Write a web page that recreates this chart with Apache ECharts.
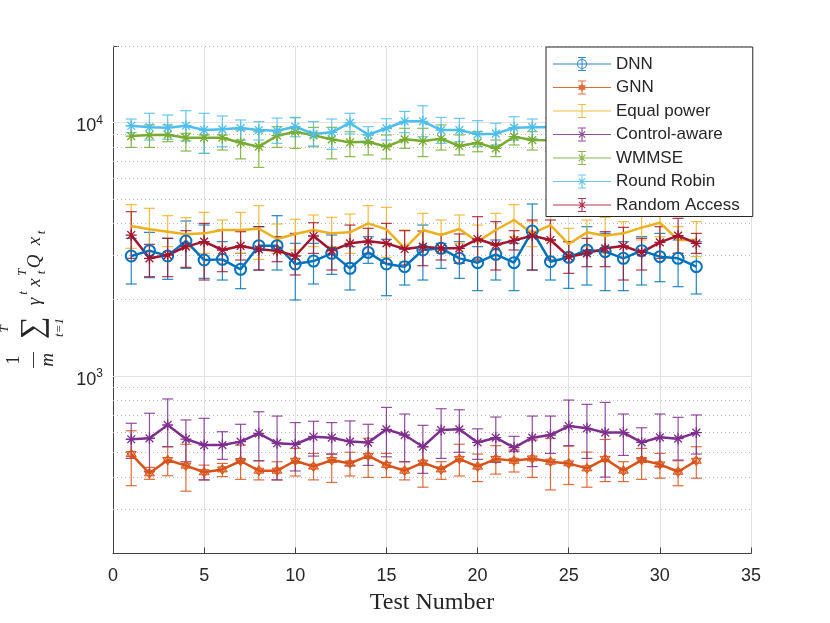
<!DOCTYPE html>
<html><head><meta charset="utf-8">
<script src="https://cdn.jsdelivr.net/npm/echarts@6/dist/echarts.min.js"></script>
<style>html,body{margin:0;padding:0;background:#fff}#c{width:830px;height:623px}</style>
</head><body><div id="c"></div>
<script>
// ---------- data ----------
const testNumbers = [1,2,3,4,5,6,7,8,9,10,11,12,13,14,15,16,17,18,19,20,21,22,23,24,25,26,27,28,29,30,31,32];
const seriesNames = ['DNN','GNN','Equal power','Control-aware','WMMSE','Round Robin','Random Access'];

const dnnMean = [2974,3122,2974,3409,2868,2885,2635,3268,3268,2766,2842,3047,2659,3074,2766,2700,3141,3189,2912,2800,3019,2800,3732,2825,2939,3141,3094,2912,3122,2957,2912,2700];
const dnnHigh = [3492,3686,3492,4087,3940,3388,3047,3882,4289,3337,3337,3599,3238,3545,3461,3189,3940,3337,3388,3238,3440,3337,4769,3440,3388,3882,3653,3388,3545,3653,3440,3388];
const dnnLow  = [2307,2444,2407,2659,2429,2392,2212,2619,2619,1995,2307,2519,2185,2783,2075,2286,2392,2659,2429,2172,2392,2172,2619,2392,2218,2286,2172,2172,2286,2356,2252,2107];

const gnnMean = [493,414,467,444,418,429,463,424,424,464,440,467,453,485,447,424,456,429,472,440,472,464,474,460,453,433,472,424,467,449,420,464];
const gnnHigh = [609,437,527,539,446,453,535,464,460,519,496,493,501,569,496,460,527,460,539,493,532,512,560,569,530,502,563,460,519,496,464,527];
const gnnLow  = [370,392,405,352,390,402,392,390,390,404,390,381,404,399,399,390,365,392,404,384,411,419,399,356,374,365,384,384,392,396,370,396];

const equalMean = [3905,3789,3709,3621,3653,3766,3766,3812,3470,3632,3766,3653,3687,4000,3789,3189,3766,3598,3800,3388,3766,4124,3653,3940,3316,3687,3577,3653,3847,4024,3440,3440];
const equalHigh = [4740,4585,4289,4212,4420,4124,4420,4698,3976,4149,4315,4225,4354,4698,4627,3766,4380,4124,4315,3940,4380,4740,4062,4585,3824,4124,4225,4062,4380,4515,3882,4062];
const equalLow  = [3189,3094,3238,3189,3047,3189,3047,2885,3047,3141,3238,3238,3047,3357,2939,2825,3141,3047,3337,2868,3141,3545,3238,3409,3047,3238,3047,3238,3440,3545,3047,2957];

const controlMean = [564,569,642,565,535,535,552,595,544,539,577,572,552,547,617,586,527,613,617,548,572,523,572,586,636,623,599,599,548,574,567,599];
const controlHigh = [652,714,813,672,682,604,646,724,696,656,664,656,666,646,753,709,640,744,737,620,690,579,696,696,805,774,788,709,626,709,688,703];
const controlLow  = [474,420,527,460,390,470,467,464,390,423,484,493,443,445,481,460,414,474,501,470,457,504,440,496,532,474,400,487,472,440,467,493];

const wmmseMean = [8835,8916,8943,8705,8705,8705,8318,8022,8862,9191,8889,8575,8342,8394,8022,8575,8445,8626,8072,8318,7903,8782,8520,8500,8700,8400,8600,8300,8500,8700,8400,8600];
const wmmseHigh = [9710,9770,9770,9060,8920,8920,9330,9190,9620,10460,9560,9560,9190,8920,8920,9480,9480,9770,8920,9190,8520,9480,9190,9300,9500,9200,9400,9100,9300,9500,9200,9400];
const wmmseLow  = [7970,7970,8394,7710,7550,7780,7180,6650,7970,7900,8020,7180,7330,7440,7180,7900,7330,7780,7440,7660,7330,8145,7780,7700,7900,7600,7800,7500,7700,7900,7600,7800];

const rrMean = [9700,9570,9530,9700,9330,9390,9500,9330,9270,9620,9000,9140,9950,8940,9480,10100,10100,9330,9330,8970,9030,9530,9570,9600,9400,9700,9500,9300,9600,9500,9400,9600];
const rrHigh = [10310,10860,10690,11120,10860,10600,10220,10070,10400,10430,10070,10310,10860,9620,10340,11050,11630,10460,10370,10160,9920,10530,10310,10400,10200,10500,10300,10100,10400,10300,10200,10400];
const rrLow  = [9110,8520,8575,8445,7550,8020,8520,8520,8270,8780,8072,7830,9000,8270,8520,9110,8780,8270,8394,8020,8145,8520,8650,8700,8500,8800,8600,8400,8700,8600,8500,8700];

const raMean = [3598,2912,3001,3238,3388,3141,3258,3160,3122,2974,3566,3122,3337,3398,3337,3170,3238,3189,3189,3470,3287,3429,3577,3440,2957,3047,3189,3258,3074,3368,3577,3337];
const raHigh = [4447,3307,3492,3743,4000,3766,3709,3882,3545,3653,4024,3653,3940,3824,4000,3743,3731,3621,3632,4250,4062,3743,4124,4124,3388,3492,3709,3858,3492,3882,4187,3653];
const raLow  = [2912,2466,2466,2684,2392,2580,2868,2619,2825,2504,3047,2619,2783,3047,2783,2741,2724,2868,2783,2868,2619,3141,2619,2868,2542,2700,2700,2392,2619,2912,3047,3047];

const xTicks = [0,5,10,15,20,25,30,35];
const yMajorGrid = [1000,10000];
const yMinorGrid = [300,400,500,600,700,800,900,2000,3000,4000,5000,6000,7000,8000,9000,20000];

// ---------- styling ----------
const colors = ['#0072BD','#D95319','#EDB120','#7E2F8E','#77AC30','#4DBEEE','#A2142F'];
const markerKinds = ['circle','hexagram','none','asterisk','asterisk','asterisk','asterisk'];

function rectP(x0,y0,x1,y1){ return 'M'+x0+','+y0+' L'+x1+','+y0+' L'+x1+','+y1+' L'+x0+','+y1+' Z '; }
function barP(cx,cy,len,half,ang){
  const c=Math.cos(ang), s=Math.sin(ang);
  const pts=[[-len,-half],[len,-half],[len,half],[-len,half]].map(p=>[cx+p[0]*c-p[1]*s, cy+p[0]*s+p[1]*c]);
  return 'M'+pts.map(p=>p[0].toFixed(3)+','+p[1].toFixed(3)).join(' L')+' Z ';
}
function asteriskP(cx,cy,r,half){ let p=''; [0,Math.PI/4,Math.PI/2,3*Math.PI/4].forEach(a=>{p+=barP(cx,cy,r,half,a);}); return p; }
function hexagramP(cx,cy,r){
  const a=r*0.866, b=r*0.5;
  return 'M'+cx+','+(cy-r)+' L'+(cx+a)+','+(cy+b)+' L'+(cx-a)+','+(cy+b)+' Z M'+cx+','+(cy+r)+' L'+(cx-a)+','+(cy-b)+' L'+(cx+a)+','+(cy-b)+' Z ';
}
function ringP(cx,cy,r,w){
  const ri=r-w;
  return 'M'+(cx+r)+','+cy+' A'+r+','+r+' 0 1,1 '+(cx-r)+','+cy+' A'+r+','+r+' 0 1,1 '+(cx+r)+','+cy+' Z '+
         'M'+(cx+ri)+','+cy+' A'+ri+','+ri+' 0 1,0 '+(cx-ri)+','+cy+' A'+ri+','+ri+' 0 1,0 '+(cx+ri)+','+cy+' Z ';
}
function legendIcon(kind){
  let p = rectP(0,6.5,58,7.5) + rectP(28.5,0,29.5,14) + rectP(25,0,33,1) + rectP(25,13,33,14);
  if (kind==='circle') p += ringP(29,7,5,1);
  else if (kind==='hexagram') p += hexagramP(29,7,4.5);
  else if (kind==='asterisk') p += asteriskP(29,7,4.5,0.6);
  return 'path://' + p;
}
const asterisk = 'path://' + asteriskP(0,0,10,1.2);
const hexagram = 'path://' + hexagramP(0,0,10);

const all = [
  {mean:dnnMean, lo:dnnLow, hi:dnnHigh, symbol:'circle', size:11, fill:'rgba(0,0,0,0)', border:2},
  {mean:gnnMean, lo:gnnLow, hi:gnnHigh, symbol:hexagram, size:10, fill:'rgba(217,83,25,0.45)', border:1},
  {mean:equalMean, lo:equalLow, hi:equalHigh, symbol:'none', size:0, fill:null, border:0},
  {mean:controlMean, lo:controlLow, hi:controlHigh, symbol:asterisk, size:11, fill:null, border:0},
  {mean:wmmseMean, lo:wmmseLow, hi:wmmseHigh, symbol:asterisk, size:11, fill:null, border:0},
  {mean:rrMean, lo:rrLow, hi:rrHigh, symbol:asterisk, size:11, fill:null, border:0},
  {mean:raMean, lo:raLow, hi:raHigh, symbol:asterisk, size:11, fill:null, border:0}
];

const series = [];
series.push({
  type:'line', name:'_grid', data:[], silent:true, z:1,
  markLine:{
    silent:true, symbol:'none', z:1, animation:false, label:{show:false},
    data: yMinorGrid.map(v => ({yAxis:v, lineStyle:{type:[1,3], color:'#b8b8b8', width:1}}))
      .concat(yMajorGrid.map(v => ({yAxis:v, lineStyle:{type:'solid', color:'#e3e3e3', width:1}})))
  }
});
all.forEach((s, k) => {
  const c = colors[k];
  series.push({
    type:'custom', name: seriesNames[k] + ' (bars)', z:3, silent:true,
    data: testNumbers.map((x,i) => [x, s.lo[i], s.hi[i]]),
    encode:{x:0, y:[1,2]},
    renderItem: function(params, api){
      const x = api.value(0);
      const pT = api.coord([x, api.value(2)]);
      const pB = api.coord([x, api.value(1)]);
      const w = 5.5;
      const st = {stroke:c, lineWidth:1.2, opacity:0.85};
      return {type:'group', children:[
        {type:'line', shape:{x1:pT[0], y1:pT[1], x2:pB[0], y2:pB[1]}, style:st},
        {type:'line', shape:{x1:pT[0]-w, y1:pT[1], x2:pT[0]+w, y2:pT[1]}, style:st},
        {type:'line', shape:{x1:pB[0]-w, y1:pB[1], x2:pB[0]+w, y2:pB[1]}, style:st}
      ]};
    }
  });
  series.push({
    type:'line', name: seriesNames[k], z:3,
    data: testNumbers.map((x,i) => [x, s.mean[i]]),
    symbol: s.symbol === 'none' ? 'circle' : s.symbol, symbolSize: s.size, showSymbol: s.symbol !== 'none',
    lineStyle:{color:c, width:2.5},
    itemStyle:{color: s.fill === null ? c : s.fill, borderColor:c, borderWidth:s.border},
    emphasis:{disabled:true}
  });
});

const serif = '"Liberation Serif", "DejaVu Serif", serif';
const ink = '#262626';
const fx = 35, fy = 302;
function t(lx, ly, text, size, italic){
  return {type:'text', x:fx+ly, y:fy-lx, rotation:Math.PI/2,
    style:{text:text, font:(italic?'italic ':'') + size + 'px ' + serif, fill:ink, align:'center', verticalAlign:'middle'}};
}

const option = {
  animation:false,
  backgroundColor:'#fff',
  grid:{left:113, right:79, top:46, bottom:69.5, containLabel:false},
  xAxis:{
    type:'value', min:xTicks[0], max:xTicks[xTicks.length-1], interval:5,
    name:'Test Number', nameLocation:'middle', nameGap:32,
    nameTextStyle:{fontFamily:'Liberation Serif', fontSize:24, color:ink},
    axisLine:{show:true, onZero:false, lineStyle:{color:'#404040', width:1}},
    axisTick:{show:true, inside:true, length:6, lineStyle:{color:'#404040'}},
    axisLabel:{fontFamily:'Liberation Sans', fontSize:18, color:ink, margin:14},
    splitLine:{show:true, lineStyle:{color:'#e3e3e3', width:1}}
  },
  yAxis:{
    type:'log', logBase:10, min:200, max:20000,
    axisLine:{show:true, lineStyle:{color:'#404040', width:1}},
    axisTick:{show:true, inside:true, length:6, lineStyle:{color:'#404040'}},
    axisLabel:{
      margin:10, color:ink,
      formatter: function(v){
        const e = Math.log10(v);
        if (Math.abs(e - Math.round(e)) > 1e-6) return '';
        return '{b|10}{s|' + Math.round(e) + '}';
      },
      rich:{
        b:{fontFamily:'Liberation Sans', fontSize:18, color:ink, lineHeight:18, padding:[4,0,0,0], verticalAlign:'top'},
        s:{fontFamily:'Liberation Sans', fontSize:12, color:ink, lineHeight:12, padding:[1,0,0,0], verticalAlign:'top'}
      }
    },
    splitLine:{show:false}
  },
  legend:{
    data: seriesNames.map((n,k) => ({name:n, icon:legendIcon(markerKinds[k]), itemStyle:{color:colors[k], opacity:0.85, borderWidth:0}})),
    orient:'vertical', left:546, top:47, z:10,
    padding:[8.5,13,3,7], itemGap:6.5, itemWidth:58, itemHeight:14,
    backgroundColor:'#fff', borderColor:ink, borderWidth:1, borderRadius:0,
    textStyle:{fontFamily:'Liberation Sans', fontSize:17, color:ink},
    selectedMode:false
  },
  graphic:[
    t(-58, -21, '1', 19, false),
    {type:'line', shape:{x1:fx-1.5, y1:fy+50, x2:fx-1.5, y2:fy+66}, style:{stroke:ink, lineWidth:0.9}},
    t(-58, 13, 'm', 19, true),
    t(-25.5, -1, '\u2211', 32, false),
    t(-27, -30, 'T', 13, true),
    t(-25.5, 25, 't=1', 13, true),
    t(0.5, 0, '\u03B3', 19, true),
    t(9, -11, 't', 13, true),
    t(19.5, 0, 'x', 19, true),
    t(29.5, -12, 'T', 13, true),
    t(29.5, 7, 't', 13, true),
    t(40.5, 0, 'Q', 19, true),
    t(61, 0, 'x', 19, true),
    t(69.5, 7, 't', 13, true)
  ],
  series: series
};

const chart = echarts.init(document.getElementById('c'), null, {renderer:'canvas'});
chart.setOption(option);
</script>
</body></html>
